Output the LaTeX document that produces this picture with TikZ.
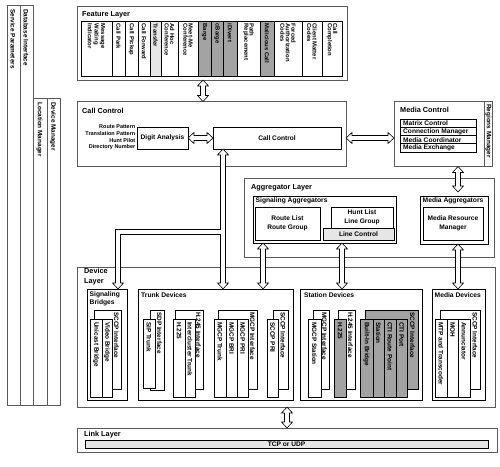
\documentclass[tikz,border=0pt]{standalone}
\usepackage{fontspec}
\setmainfont{Liberation Sans}
\usetikzlibrary{calc,shadows}
\definecolor{dgray}{HTML}{A3A3A3}
\definecolor{lgray}{HTML}{E6E6E6}
\definecolor{framec}{HTML}{5A5A5A}
\newcommand\fsz[2]{\fontsize{#1}{#2}\selectfont}
\newcommand\bx[6][]{\node[ibox,#1,anchor=north west,minimum width={(#5-#3)*1pt},minimum height={(#6-#4)*1pt}] (#2) at (#3,#4) {};}
\newcommand\fitem[5]{\bx[fill=#4]{#1}{#2}{21}{#3}{76}\node[flab] at ($(#1.north)+(0,2.5)$) {#5};}
\newcommand\front[6][white]{\bx[fill=#1]{#2}{#3}{319}{#4}{#5}\node[dlab] at ($(#2.north)+(0,3)$) {#6};}
\newcommand\vdarrow[2]{\draw[harrow] (#1) -- ++(5.5,6) -- ++(-3,0) -- ($(#2)+(2.5,-6)$) -- ++(3,0) -- (#2) -- ++(-5.5,-6) -- ++(3,0) -- ($(#1)+(-2.5,6)$) -- ++(-3,0) -- cycle;}
\newcommand\hdarrow[2]{\draw[harrow] (#1) -- ++(6,-5.5) -- ++(0,3) -- ($(#2)+(-6,-2.5)$) -- ++(0,-3) -- (#2) -- ++(-6,5.5) -- ++(0,-3) -- ($(#1)+(6,2.5)$) -- ++(0,3) -- cycle;}
\tikzset{
  ibox/.style={draw=black, line width=0.6pt, fill=white, inner sep=0pt, outer sep=0pt},
  obox/.style={draw=framec, line width=0.8pt, fill=white, drop shadow={shadow xshift=0.9pt, shadow yshift=-0.9pt, fill=black!45, opacity=1}},
  sbox/.style={drop shadow={shadow xshift=0.7pt, shadow yshift=-0.7pt, fill=black!45, opacity=1}},
  ttl/.style={font=\bfseries\fsz{7.3}{9}, inner sep=0pt, anchor=west, align=left},
  stl/.style={font=\bfseries\fsz{6.7}{8.4}, inner sep=0pt, anchor=west, align=left},
  lbl/.style={font=\bfseries\fsz{6.6}{8.8}, inner sep=0pt, align=center},
  flab/.style={font=\bfseries\fsz{5.9}{5.4}, inner sep=0pt, rotate=-90, anchor=west, align=left},
  dlab/.style={font=\bfseries\fsz{6.4}{6}, inner sep=0pt, rotate=-90, anchor=west, align=left},
  harrow/.style={draw=black, line width=0.6pt, fill=white, line join=miter},
}
\begin{document}
\begin{tikzpicture}[x=1pt,y=-1pt]
\fill[white] (0,0) rectangle (500,466);
\useasboundingbox (0,0) rectangle (500,466);

% ---- left bars
\bx[obox]{svc}{7}{5}{20}{405}
\bx[obox]{dbi}{20}{5}{33}{405}
\bx[obox]{locm}{33}{98}{47}{405}
\bx[obox]{devm}{47}{98}{60}{405}
\node[dlab] at ($(svc.north)+(-0.5,4)$) {Service Parameters};
\node[dlab] at ($(dbi.north)+(-0.5,4)$) {Database Interface};
\node[dlab] at ($(locm.north)+(-0.5,4)$) {Location Manager};
\node[dlab] at ($(devm.north)+(-0.5,4)$) {Device Manager};

% ---- feature layer
\bx[obox]{feat}{77}{6}{347}{80}
\node[ttl] at (82,15) {Feature Layer};
\fitem{f1}{81}{112}{white}{Message\\Waiting\\Indicator}
\fitem{f2}{112}{125}{white}{Call Park}
\fitem{f3}{125}{138}{white}{Call Pickup}
\fitem{f4}{138}{150}{white}{Call Forward}
\fitem{f5}{150}{161}{lgray}{Transfer}
\fitem{f6}{161}{178}{white}{Ad Hoc\\Conference}
\fitem{f7}{178}{198}{white}{Meet-Me\\Conference}
\fitem{f8}{198}{211}{dgray}{Barge}
\fitem{f9}{211}{223}{dgray}{cBarge}
\fitem{f10}{223}{237}{dgray}{iDivert}
\fitem{f11}{237}{260}{white}{Path\\Replacement}
\fitem{f12}{260}{274}{dgray}{Malicious Call}
\fitem{f13}{274}{302}{white}{Forced\\Authorization\\Codes}
\fitem{f14}{302}{322}{white}{Client Matter\\Codes}
\fitem{f15}{322}{342}{white}{Call\\Completion}

% ---- call control
\bx[obox]{cc}{77}{101.5}{346}{166.5}
\node[ttl] at (82,110.5) {Call Control};
\bx[sbox]{da}{137}{127}{188}{149}
\node[lbl] at (da.center) {Digit Analysis};
\node[font=\bfseries\fsz{5.5}{6.6}, inner sep=0pt, align=right, anchor=east] (dalist) at (135.5,137.5) {Route Pattern\\Translation Pattern\\Hunt Pilot\\Directory Number};
\bx[sbox]{ccin}{213}{127}{341}{149}
\node[lbl] at (ccin.center) {Call Control};

% ---- media control
\bx[obox]{mc}{394}{101.5}{492}{166.5}
\draw[framec, line width=0.6pt] (484,101.5) -- (484,166.5);
\node[dlab] at (488.5,104) {Regions Manager};
\node[ttl] at (400,110) {Media Control};
\bx[sbox]{mlist}{400}{119}{476}{152}
\bx{mr1}{400}{119}{476}{127.25}
\bx{mr2}{400}{127.25}{476}{135.5}
\bx{mr3}{400}{135.5}{476}{143.75}
\bx{mr4}{400}{143.75}{476}{152}
\node[lbl, anchor=west] at ($(mr1.west)+(3,0.3)$) {Matrix Control};
\node[lbl, anchor=west] at ($(mr2.west)+(3,0.3)$) {Connection Manager};
\node[lbl, anchor=west] at ($(mr3.west)+(3,0.3)$) {Media Coordinator};
\node[lbl, anchor=west] at ($(mr4.west)+(3,0.3)$) {Media Exchange};

% ---- aggregator layer
\bx[obox]{agg}{244}{178}{494}{257}
\node[ttl] at (251,188) {Aggregator Layer};
\bx[sbox]{sagg}{253}{196}{396}{243}
\node[stl] at (255.5,200.5) {Signaling Aggregators};
\bx[sbox]{rl}{255}{207}{320}{240}
\node[lbl] at (rl.center) {Route List\\Route Group};
\bx{hl}{331}{207}{393}{228}
\node[lbl] at (hl.center) {Hunt List\\Line Group};
\bx[fill=lgray, sbox]{lc}{323}{228}{394}{240}
\node[lbl] at (lc.center) {Line Control};
\bx[sbox]{magg}{420}{196}{488}{244}
\node[stl] at (422.5,200.5) {Media Aggregators};
\bx[sbox]{mrm}{423}{207}{483}{240}
\node[lbl] at (mrm.center) {Media Resource\\Manager};

% ---- device layer
\bx[obox]{devl}{77}{267}{495}{407}
\node[ttl, font=\bfseries\fsz{7.3}{10}] at (84,276.5) {Device\\Layer};
\bx[sbox]{sigb}{87}{289}{127}{400}
\node[stl] at (89.5,298.5) {Signaling\\Bridges};
\bx[sbox]{trunk}{138}{289}{293}{400}
\node[stl] at (141,295) {Trunk Devices};
\bx[sbox]{stat}{300}{289}{422}{400}
\node[stl] at (304,295) {Station Devices};
\bx[sbox]{mdev}{432}{289}{485}{400}
\node[stl] at (434.5,295) {Media Devices};

% signaling bridges
\bx{sbb}{94}{310}{121}{389}
\node[dlab] at (116.5,312) {SCCP Interface};
\front{ub}{90}{102}{397}{Unicast Bridge}
\front{vb}{102}{112}{397}{Video Bridge}
% trunk devices
\bx{sdp}{150}{310}{164}{390}
\node[dlab] at (159.5,312) {SDP Interface};
\front{sip}{143}{155}{388}{SIP Trunk}
\bx{h245t}{175}{310}{203}{389}
\node[dlab] at (198.5,312) {H.245 Interface};
\front{h225t}{173}{185}{397}{H.225}
\front{ict}{185}{195}{397}{Intercluster Trunk}
\bx{mgcpt}{218}{310}{257}{389}
\node[dlab] at (252.5,312) {MGCP Interface};
\front{mtr}{214}{226}{397}{MGCP Trunk}
\front{mbri}{226}{237}{397}{MGCP BRI}
\front{mpri}{237}{248}{397}{MGCP PRI}
\bx{sccpt}{273}{310}{288}{389}
\node[dlab] at (283,312) {SCCP Interface};
\front{spri}{267}{278}{397}{SCCP PRI}
% station devices
\bx{mgcps}{313}{310}{329}{389}
\node[dlab] at (324.5,312) {MGCP Interface};
\front{mgst}{308}{321}{397}{MGCP Station}
\bx{h245s}{338}{310}{355}{389}
\node[dlab] at (350.5,312) {H.245 Interface};
\front[dgray]{h225s}{334}{346}{397}{H.225}
\bx[fill=dgray]{sccps}{365}{310}{418}{389}
\node[dlab] at (412.5,312) {SCCP Interface};
\front[dgray]{bib}{360}{373}{397}{Built-In Bridge}
\front[dgray]{stn}{373}{384}{397}{Station}
\front[dgray]{ctirp}{384}{396}{397}{CTI Route Point}
\front[dgray]{ctip}{396}{407}{397}{CTI Port}
% media devices
\bx{sccpm}{440}{310}{480}{389}
\node[dlab] at (475,312) {SCCP Interface};
\front{mtp}{435}{447}{397}{MTP and Transcoder}
\front{moh}{447}{458}{397}{MOH}
\front{ann}{458}{470}{397}{Annunciator}

% ---- link layer
\bx[obox]{link}{77}{428}{497}{452}
\node[ttl] at (84,435) {Link Layer};
\bx[fill=lgray, sbox]{tcp}{85}{440}{488}{448.5}
\node[lbl] at (tcp.center) {TCP or UDP};

% ---- arrows
\coordinate (c203) at (203,0);
\coordinate (c223) at (223,0);
\coordinate (c118) at (118,0);
\coordinate (c263) at (263,0);
\coordinate (c342) at (342,0);
\coordinate (c458) at (458,0);
\coordinate (c287) at (287,0);
\coordinate (a1t) at (c203 |- feat.south);
\coordinate (a1b) at (c203 |- cc.north);
\vdarrow{a1t}{a1b}
\hdarrow{da.east}{ccin.west}
\coordinate (a3l) at (cc.east |- da.east);
\coordinate (a3r) at (mc.west |- da.east);
\hdarrow{a3l}{a3r}
\coordinate (a4t) at (c458 |- mc.south);
\coordinate (a4b) at (458,192);
\vdarrow{a4t}{a4b}
\coordinate (a5t) at (c223 |- ccin.south);
\coordinate (a5b) at (c223 |- trunk.north);
\coordinate (a5l) at (c118 |- sigb.north);
\coordinate (a5j) at (223,232);
\draw[harrow] (a5t) -- ++(5.5,6) -- ++(-3,0) -- ($(a5b)+(2.5,-6)$) -- ++(3,0) -- (a5b) -- ++(-5.5,-6) -- ++(3,0)
  -- ($(a5j)+(-2.5,2.5)$) -- ($(a5l |- a5j)+(2.5,2.5)$) -- ($(a5l)+(2.5,-6)$) -- ++(3,0) -- (a5l) -- ++(-5.5,-6) -- ++(3,0)
  -- ($(a5l |- a5j)+(-2.5,-2.5)$) -- ($(a5j)+(-2.5,-2.5)$) -- ($(a5t)+(-2.5,6)$) -- ++(-3,0) -- cycle;
\coordinate (a6t) at (c263 |- sagg.south);
\coordinate (a6b) at (c263 |- trunk.north);
\vdarrow{a6t}{a6b}
\coordinate (a7t) at (c342 |- sagg.south);
\coordinate (a7b) at (c342 |- stat.north);
\vdarrow{a7t}{a7b}
\coordinate (a8t) at (c458 |- magg.south);
\coordinate (a8b) at (c458 |- mdev.north);
\vdarrow{a8t}{a8b}
\coordinate (a9t) at (c287 |- devl.south);
\coordinate (a9b) at (c287 |- link.north);
\vdarrow{a9t}{a9b}
\end{tikzpicture}
\end{document}
